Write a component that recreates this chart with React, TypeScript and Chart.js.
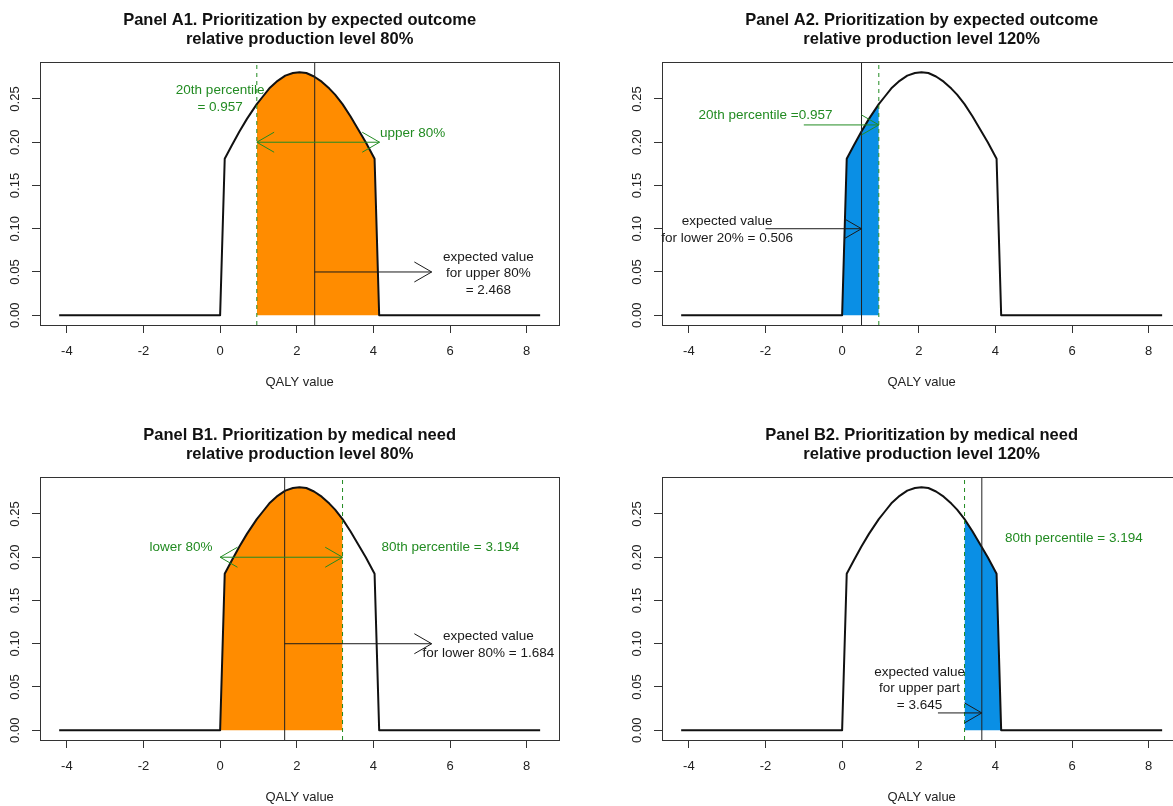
import { useEffect, useRef } from "react";
import { Chart, registerables } from "chart.js";

Chart.register(...registerables);

const FONT = "'Liberation Sans', Arial, Helvetica, sans-serif";
Chart.defaults.font.family = FONT;

// ---- data ----
const curveX = [-4.2, 0, 0.12, 0.3, 0.5, 0.7, 0.957, 1.1, 1.3, 1.5, 1.7, 1.9, 2.07, 2.25, 2.45, 2.65, 2.85, 3.0, 3.194, 3.4, 3.6, 3.8, 4.03, 4.15, 8.35];
const curveY = [0, 0, 0.181, 0.196, 0.212, 0.227, 0.244, 0.252, 0.263, 0.271, 0.277, 0.28, 0.281, 0.28, 0.276, 0.27, 0.262, 0.255, 0.244, 0.23, 0.215, 0.2, 0.181, 0, 0];

const panelTitles = [
  ["Panel A1. Prioritization by expected outcome", "relative production level 80%"],
  ["Panel A2. Prioritization by expected outcome", "relative production level 120%"],
  ["Panel B1. Prioritization by medical need", "relative production level 80%"],
  ["Panel B2. Prioritization by medical need", "relative production level 120%"],
];
const fillRanges = [
  [0.957, 4.15],
  [0, 0.957],
  [0, 3.194],
  [3.194, 4.15],
];
const percentileValues = [0.957, 0.957, 3.194, 3.194];
const expectedValues = [2.468, 0.506, 1.684, 3.645];
const fillKinds = ["orange", "blue", "orange", "blue"];

// arrows: [x0, y0, x1, y1, bothEnds, colour kind]
type Arrow = [number, number, number, number, boolean, string];
const arrowsA1: Arrow[] = [
  [0.957, 0.2, 4.16, 0.2, true, "green"],
  [2.468, 0.05, 5.52, 0.05, false, "black"],
];
const arrowsA2: Arrow[] = [
  [-1.0, 0.22, 0.957, 0.22, false, "green"],
  [-2.0, 0.1, 0.506, 0.1, false, "black"],
];
const arrowsB1: Arrow[] = [
  [0.0, 0.2, 3.194, 0.2, true, "green"],
  [1.684, 0.1, 5.52, 0.1, false, "black"],
];
const arrowsB2: Arrow[] = [[2.5, 0.02, 3.645, 0.02, false, "black"]];

// texts: x, y, lines, align, colour kind
type Note = { x: number; y: number; lines: string[]; align: CanvasTextAlign; kind: string };
const notesA1: Note[] = [
  { x: 0.0, y: 0.25, lines: ["20th percentile", "= 0.957"], align: "center", kind: "green" },
  { x: 4.17, y: 0.21, lines: ["upper 80%"], align: "left", kind: "green" },
  { x: 7.0, y: 0.048, lines: ["expected value", "for upper 80%", "= 2.468"], align: "center", kind: "black" },
];
const notesA2: Note[] = [
  { x: -2.0, y: 0.231, lines: ["20th percentile =0.957"], align: "center", kind: "green" },
  { x: -3.0, y: 0.099, lines: ["expected value", "for lower 20% = 0.506"], align: "center", kind: "black" },
];
const notesB1: Note[] = [
  { x: -0.2, y: 0.211, lines: ["lower 80%"], align: "right", kind: "green" },
  { x: 4.21, y: 0.212, lines: ["80th percentile = 3.194"], align: "left", kind: "green" },
  { x: 7.0, y: 0.099, lines: ["expected value", "for lower 80% = 1.684"], align: "center", kind: "black" },
];
const notesB2: Note[] = [
  { x: 4.25, y: 0.222, lines: ["80th percentile = 3.194"], align: "left", kind: "green" },
  { x: 2.02, y: 0.048, lines: ["expected value", "for upper part", "= 3.645"], align: "center", kind: "black" },
];
const panelArrows = [arrowsA1, arrowsA2, arrowsB1, arrowsB2];
const panelNotes = [notesA1, notesA2, notesB1, notesB2];
const xAxisTitle = "QALY value";

// ---- layout / style ----
const COLORS: Record<string, string> = {
  green: "#228B22",
  black: "#1a1a1a",
  orange: "#FF8C00",
  blue: "#0A8FE5",
};
const CW = 600;
const CH = 400;
const AREA_LEFT = 40;
const AREA_RIGHT = 559.3;
const AREA_TOP = 62.3;
const AREA_BOTTOM = 325;
const X_MIN = -4.7;
const X_MAX = 8.85;
const Y_MIN = -0.0113;
const Y_MAX = 0.2924;
const POSITIONS = [
  [0, 0],
  [622, 0],
  [0, 415],
  [622, 415],
];

function drawHead(ctx: CanvasRenderingContext2D, px: number, py: number, ang: number) {
  const L = 20;
  const A = Math.PI / 6;
  ctx.moveTo(px - L * Math.cos(ang - A), py - L * Math.sin(ang - A));
  ctx.lineTo(px, py);
  ctx.lineTo(px - L * Math.cos(ang + A), py - L * Math.sin(ang + A));
}

function makePlugin(i: number) {
  return {
    id: "annot" + i,
    afterDraw(chart: any) {
      const { ctx, chartArea: a } = chart;
      const xs = chart.scales.x;
      const ys = chart.scales.y;
      ctx.save();
      // box
      ctx.strokeStyle = "#333";
      ctx.lineWidth = 1;
      ctx.strokeRect(
        Math.round(a.left) + 0.5,
        Math.round(a.top) + 0.5,
        Math.round(a.right) - Math.round(a.left),
        Math.round(a.bottom) - Math.round(a.top)
      );
      // y tick labels (rotated)
      ctx.fillStyle = "#222";
      ctx.font = `13px ${FONT}`;
      ctx.textAlign = "center";
      ctx.textBaseline = "middle";
      ys.ticks.forEach((t: any) => {
        const py = ys.getPixelForValue(t.value);
        ctx.save();
        ctx.translate(a.left - 25, py);
        ctx.rotate(-Math.PI / 2);
        ctx.fillText(Number(t.value).toFixed(2), 0, 0);
        ctx.restore();
      });
      // x axis title
      ctx.fillText(xAxisTitle, (a.left + a.right) / 2, a.bottom + 57.7);
      // title
      ctx.fillStyle = "#111";
      ctx.font = `bold 16.5px ${FONT}`;
      panelTitles[i].forEach((l, k) => {
        ctx.fillText(l, (a.left + a.right) / 2, a.top - 42.3 + k * 19.5);
      });
      // arrows
      ctx.lineWidth = 1;
      panelArrows[i].forEach(([x0, y0, x1, y1, both, kind]) => {
        const p0x = xs.getPixelForValue(x0);
        const p0y = ys.getPixelForValue(y0);
        const p1x = xs.getPixelForValue(x1);
        const p1y = ys.getPixelForValue(y1);
        ctx.strokeStyle = COLORS[kind];
        ctx.beginPath();
        ctx.moveTo(p0x, p0y);
        ctx.lineTo(p1x, p1y);
        drawHead(ctx, p1x, p1y, Math.atan2(p1y - p0y, p1x - p0x));
        if (both) drawHead(ctx, p0x, p0y, Math.atan2(p0y - p1y, p0x - p1x));
        ctx.stroke();
      });
      // notes
      ctx.font = `13.5px ${FONT}`;
      ctx.textBaseline = "middle";
      panelNotes[i].forEach((n) => {
        const px = xs.getPixelForValue(n.x);
        const py = ys.getPixelForValue(n.y);
        ctx.fillStyle = COLORS[n.kind];
        ctx.textAlign = n.align;
        const m = n.lines.length;
        n.lines.forEach((l, k) => {
          ctx.fillText(l, px, py + (k - (m - 1) / 2) * 16.5);
        });
      });
      ctx.restore();
    },
  };
}

function buildConfig(i: number): any {
  const curvePts = curveX.map((x, k) => ({ x, y: curveY[k] }));
  const [lo, hi] = fillRanges[i];
  const fillPts = curvePts.filter((p) => p.x >= lo && p.x <= hi);
  const pv = percentileValues[i];
  const ev = expectedValues[i];
  return {
    type: "line",
    data: {
      datasets: [
        {
          data: fillPts,
          fill: "origin",
          backgroundColor: COLORS[fillKinds[i]],
          borderColor: "transparent",
          borderWidth: 0,
          pointRadius: 0,
          tension: 0,
          order: 5,
        },
        {
          data: curvePts,
          fill: false,
          borderColor: "#111",
          borderWidth: 2,
          pointRadius: 0,
          tension: 0,
          borderJoinStyle: "round",
          order: 2,
        },
        {
          data: [
            { x: pv, y: Y_MIN },
            { x: pv, y: Y_MAX },
          ],
          fill: false,
          borderColor: COLORS.green,
          borderWidth: 1,
          borderDash: [4, 4],
          pointRadius: 0,
          order: 1,
        },
        {
          data: [
            { x: ev, y: Y_MIN },
            { x: ev, y: Y_MAX },
          ],
          fill: false,
          borderColor: "#222",
          borderWidth: 1,
          pointRadius: 0,
          order: 1,
        },
      ],
    },
    options: {
      responsive: false,
      animation: false,
      events: [],
      layout: { padding: { top: AREA_TOP, right: CW - AREA_RIGHT, left: 0, bottom: 0 } },
      plugins: {
        legend: { display: false },
        tooltip: { enabled: false },
        title: { display: false },
      },
      scales: {
        x: {
          type: "linear",
          min: X_MIN,
          max: X_MAX,
          afterFit: (s: any) => {
            s.height = CH - AREA_BOTTOM;
          },
          ticks: {
            stepSize: 2,
            includeBounds: false,
            color: "#222",
            font: { size: 13, family: FONT },
            padding: 11,
            maxRotation: 0,
            autoSkip: false,
          },
          grid: { display: true, drawOnChartArea: false, drawTicks: true, tickLength: 8, color: "#333", lineWidth: 1 },
          border: { display: false },
        },
        y: {
          type: "linear",
          min: Y_MIN,
          max: Y_MAX,
          afterFit: (s: any) => {
            s.width = AREA_LEFT;
          },
          ticks: { stepSize: 0.05, includeBounds: false, display: false },
          grid: { display: true, drawOnChartArea: false, drawTicks: true, tickLength: 8, color: "#333", lineWidth: 1 },
          border: { display: false },
        },
      },
    },
    plugins: [makePlugin(i)],
  };
}

function Panel({ index }: { index: number }) {
  const ref = useRef<HTMLCanvasElement>(null);
  useEffect(() => {
    const chart = new Chart(ref.current as HTMLCanvasElement, buildConfig(index));
    return () => chart.destroy();
  }, [index]);
  const [left, top] = POSITIONS[index];
  return (
    <canvas
      ref={ref}
      width={CW}
      height={CH}
      style={{ position: "absolute", left, top, width: CW, height: CH, display: "block" }}
    />
  );
}

export default function App() {
  return (
    <div
      style={{
        position: "fixed",
        left: 0,
        top: 0,
        width: 1173,
        height: 806,
        overflow: "hidden",
        background: "#fff",
      }}
    >
      {[0, 1, 2, 3].map((i) => (
        <Panel key={i} index={i} />
      ))}
    </div>
  );
}
